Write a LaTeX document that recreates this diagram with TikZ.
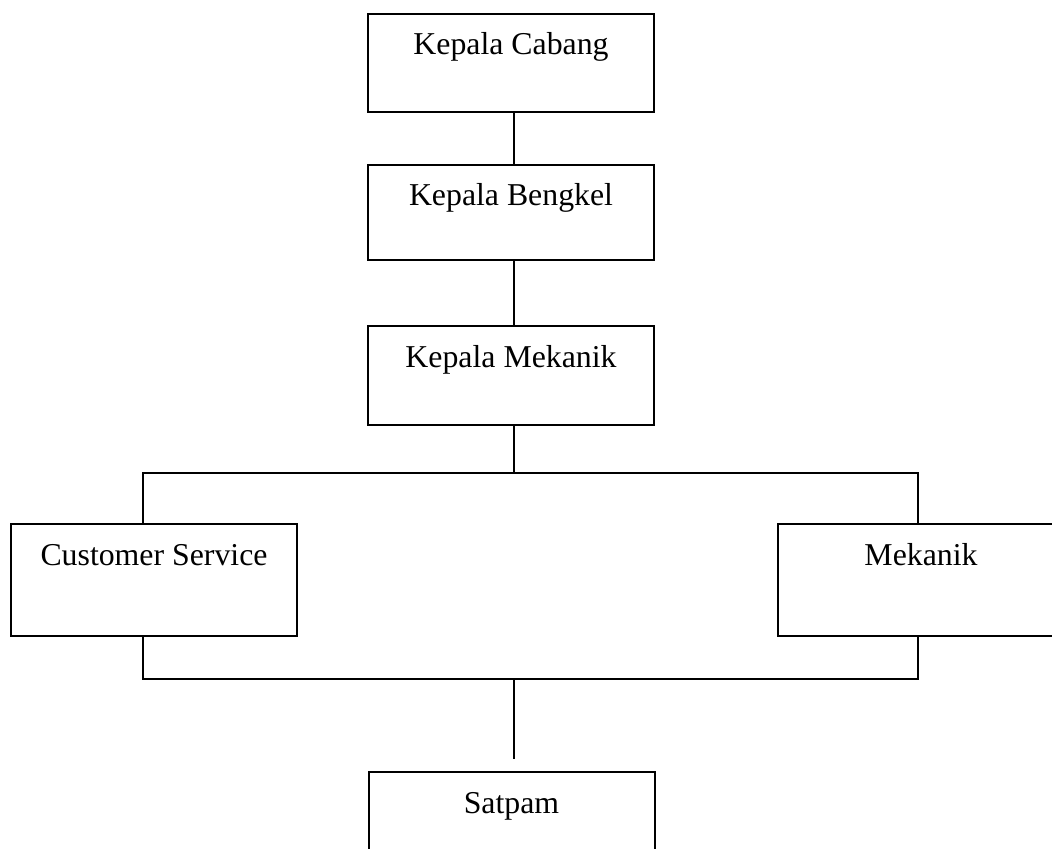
\documentclass[tikz,border=0pt]{standalone}
\usepackage{fontspec}
\setmainfont{Liberation Serif}
\usetikzlibrary{positioning}

\begin{document}
\begin{tikzpicture}[x=0.5pt,y=-0.5pt,line width=1pt]
    \tikzstyle{jabatan}=[draw,rectangle,anchor=north,inner sep=0pt,
    minimum width=143pt,text height=20.5pt,text depth=28.5pt,
    font=\fontsize{15.9}{19}\selectfont];
    \tikzstyle{garis}=[line width=1pt];

    \useasboundingbox (0,0) rectangle (1052,849);
    \clip (0,0) rectangle (1052,849);

    \node (cabang) [jabatan] at (511,13) {Kepala Cabang};
    \node (bengkel) [jabatan,text depth=27pt] at (511,164) {Kepala
    Bengkel}; \node (kamek) [jabatan,text depth=29pt] at (511,325)
    {Kepala Mekanik};

    \node (cs) [jabatan,text depth=35.5pt] at (154,523) {Customer
    Service}; \node (mekanik) [jabatan,text depth=35.5pt] at
    (921,523) {Mekanik};

    \node (satpam) [jabatan,text depth=30pt] at (511.5,771) {Satpam};

    \coordinate (bagi) at (514,473);
    \coordinate (gabung) at (514,679);
    \coordinate (ujung) at (514,759);

    \path[garis] ([xshift=1.5pt]cabang.south) edge
    ([xshift=1.5pt]bengkel.north) ([xshift=1.5pt]bengkel.south) edge
    ([xshift=1.5pt]kamek.north) ([xshift=1.5pt]kamek.south) edge
    (bagi) (gabung) edge (ujung);

    \draw[garis] ([xshift=-5.5pt]cs.north) |- (bagi) -|
    ([xshift=-1.5pt]mekanik.north);
    \draw[garis] ([xshift=-5.5pt]cs.south) |- (gabung) -|
    ([xshift=-1.5pt]mekanik.south);
\end{tikzpicture}
\end{document}
